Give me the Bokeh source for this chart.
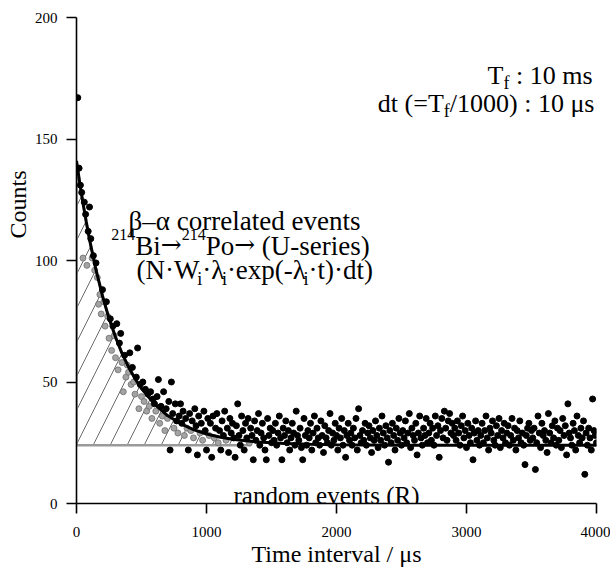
import numpy as np
from bokeh.plotting import figure
from bokeh.models import Range1d, FixedTicker, Label, Title
from bokeh.embed import file_html
from bokeh.resources import INLINE

# ---------------- data ----------------
time_us = list(range(10, 4001, 10))          # dt = 10 us bins
counts = [
    167, 138, 131, 128, 101, 124, 119, 98, 112, 122,
    109, 101, 102, 96, 99, 93, 82, 86, 78, 88,
    83, 73, 83, 77, 68, 76, 63, 73, 69, 60,
    74, 55, 66, 70, 58, 46, 61, 52, 57, 54,
    62, 49, 56, 50, 45, 52, 64, 39, 49, 44,
    50, 42, 47, 38, 45, 40, 46, 35, 43, 41,
    38, 44, 51, 33, 40, 36, 46, 30, 39, 35,
    42, 22, 50, 37, 31, 41, 34, 29, 36, 41,
    33, 38, 28, 35, 31, 22, 37, 30, 34, 27,
    39, 32, 20, 36, 29, 33, 26, 38, 30, 22,
    35, 28, 33, 19, 36, 27, 31, 37, 25, 30,
    22, 34, 28, 38, 26, 31, 21, 35, 29, 33,
    27, 19, 32, 41, 28, 24, 36, 30, 22, 33,
    27, 35, 25, 31, 28, 18, 34, 26, 30, 37,
    24, 29, 33, 27, 22, 18, 35, 28, 31, 25,
    30, 26, 33, 24, 29, 36, 27, 18, 31, 28,
    34, 25, 30, 22, 27, 33, 29, 24, 38, 28,
    26, 31, 23, 18, 35, 28, 24, 30, 27, 33,
    22, 29, 36, 25, 31, 27, 24, 34, 28, 21,
    32, 27, 25, 30, 37, 24, 29, 26, 33, 28,
    22, 31, 27, 35, 24, 30, 19, 28, 33, 26,
    29, 24, 31, 27, 35, 22, 39, 28, 25, 30,
    26, 33, 24, 29, 32, 27, 21, 30, 26, 34,
    28, 23, 31, 26, 36, 29, 24, 32, 27, 17,
    30, 25, 33, 28, 22, 31, 26, 35, 29, 24,
    30, 27, 34, 25, 29, 37, 23, 31, 28, 26,
    33, 20, 29, 36, 27, 24, 31, 28, 35, 25,
    29, 33, 26, 31, 24, 36, 28, 32, 19, 30,
    35, 27, 38, 31, 26, 34, 37, 29, 33, 28,
    31, 26, 34, 29, 24, 32, 36, 27, 30, 23,
    33, 28, 25, 31, 18, 29, 34, 26, 30, 24,
    28, 33, 25, 30, 36, 27, 22, 31, 29, 34,
    26, 24, 32, 28, 35, 23, 30, 27, 33, 25,
    29, 32, 24, 28, 35, 26, 31, 22, 30, 27,
    34, 25, 29, 24, 16, 28, 31, 33, 26, 30,
    27, 31, 14, 25, 36, 29, 23, 33, 28, 30,
    26, 21, 37, 29, 25, 32, 27, 34, 24, 31,
    26, 30, 23, 35, 28, 32, 20, 41, 29, 27,
    24, 33, 30, 22, 36, 28, 25, 31, 27, 34,
    12, 29, 24, 31, 27, 22, 43, 30, 28, 25,
]

fit_time = [0, 25, 50, 75, 100, 150, 200, 250, 300, 350, 400, 450, 500,
            600, 700, 800, 900, 1000, 1100, 1200, 1300, 1400, 1600, 1800,
            2000, 2500, 3000, 4000]
fit_counts = [141.0, 131.9, 123.6, 115.9, 108.7, 96.1, 85.4, 76.2, 68.5,
              61.8, 56.2, 51.4, 47.3, 40.9, 36.2, 32.9, 30.4, 28.6, 27.4,
              26.4, 25.8, 25.3, 24.7, 24.4, 24.2, 24.0, 24.0, 24.0]
random_level = 24.0
shade_end = 1340

x_ticks = [0, 1000, 2000, 3000, 4000]
y_ticks = [0, 50, 100, 150, 200]

# ---------------- layout helpers ----------------
SERIF = "Liberation Serif"
ARROWF = "DejaVu Serif"
FX0, FX1, FY0, FY1 = 76, 596, 503, 17   # canvas px of frame edges
XMIN, XMAX, YMIN, YMAX = 0, 4000, 0, 200


def px2x(px):
    return XMIN + (px - FX0) * (XMAX - XMIN) / (FX1 - FX0)


def py2y(py):
    return YMIN + (FY0 - py) * (YMAX - YMIN) / (FY0 - FY1)


WID = {' ': 250, '(': 333, ')': 333, '-': 333, '/': 278, ':': 278, '=': 564,
       '·': 250, '–': 500, 'β': 500, 'α': 531, 'λ': 479, 'μ': 500,
       'B': 667, 'N': 722, 'P': 556, 'R': 667, 'T': 611, 'U': 722, 'W': 944,
       'a': 444, 'c': 444, 'd': 500, 'e': 444, 'f': 333, 'i': 278, 'l': 278,
       'm': 778, 'n': 500, 'o': 500, 'p': 500, 'r': 333, 's': 389, 't': 278,
       'v': 500, 'x': 500}
ARROW_W = 838


def tw(s, size, font=SERIF):
    if font == ARROWF:
        return len(s) * ARROW_W * size / 1000.0
    return sum(WID.get(ch, 500) for ch in s) * size / 1000.0


p = figure(frame_width=520, frame_height=486,
           min_border_left=76, min_border_right=14,
           min_border_top=17, min_border_bottom=70,
           x_range=Range1d(XMIN, XMAX), y_range=Range1d(YMIN, YMAX),
           output_backend="svg", toolbar_location=None)
p.outline_line_color = None
p.xgrid.visible = False
p.ygrid.visible = False
p.background_fill_color = "white"
p.border_fill_color = "white"

p.xaxis.ticker = FixedTicker(ticks=x_ticks)
p.yaxis.ticker = FixedTicker(ticks=y_ticks)
for ax in (p.xaxis[0], p.yaxis[0]):
    ax.axis_line_width = 1.6
    ax.axis_line_color = "black"
    ax.major_tick_line_width = 1.6
    ax.major_tick_line_color = "black"
    ax.major_tick_out = 10
    ax.major_tick_in = 0
    ax.minor_tick_out = 0
    ax.minor_tick_in = 0
    ax.major_label_text_font = SERIF
    ax.major_label_text_font_size = "15px"
    ax.major_label_text_color = "black"
p.xaxis.major_label_standoff = 13
p.yaxis.major_label_standoff = 9

p.xaxis.axis_label = "Time interval / μs"
p.xaxis.axis_label_text_font = SERIF
p.xaxis.axis_label_text_font_size = "24px"
p.xaxis.axis_label_text_font_style = "normal"
p.xaxis.axis_label_text_color = "black"
p.xaxis.axis_label_standoff = 1

p.add_layout(Title(text="Counts", align="right", offset=153, standoff=2,
                   text_font=SERIF, text_font_size="24px",
                   text_font_style="normal", text_color="black"), "left")

# ---------------- marks ----------------
fx = np.array(fit_time, float)
fy = np.array(fit_counts, float)
m = fx < shade_end
hx = list(fx[m]) + [shade_end, shade_end, 0]
hy = list(fy[m]) + [float(np.interp(shade_end, fx, fy)), random_level, random_level]
p.patch(hx, hy, fill_color=None, hatch_pattern="/", hatch_scale=34,
        hatch_weight=0.8, hatch_color="#444444",
        line_color="#9a9a9a", line_width=2.5)

cx = np.array(time_us, float)
cy = np.array(counts, float)
on_curve = np.interp(cx, fx, fy)
inside = (cx <= shade_end) & (cy > random_level) & (cy < on_curve)

p.scatter(cx[inside], cy[inside], size=6, fill_color="#a3a3a3",
          line_color="#6e6e6e", line_width=0.8)
p.line(fx, fy, line_width=3, color="black")
p.scatter(cx[~inside], cy[~inside], size=6, fill_color="black",
          line_color="black")


# ---------------- texts ----------------
def label(text, xpx, ypx, size, align="left", font=SERIF):
    p.add_layout(Label(x=px2x(xpx), y=py2y(ypx), text=text,
                       text_font=font, text_font_size=f"{size}px",
                       text_align=align, text_baseline="alphabetic",
                       text_color="black"))


def rich(pieces, xpx, base, align="left"):
    pcs = [pc if len(pc) == 4 else pc + (SERIF,) for pc in pieces]
    total = sum(tw(t, s, f) for t, s, d, f in pcs)
    x = xpx
    if align == "center":
        x = xpx - total / 2
    elif align == "right":
        x = xpx - total
    for t, s, d, f in pcs:
        if t.strip():
            label(t, x, base - d, s, font=f)
        x += tw(t, s, f)


label("β–α correlated events", 244, 220, 27, align="center")
rich([("214", 16, 11), ("Bi", 27, 0), ("→", 25, 1, ARROWF), ("214", 16, 11),
      ("Po", 27, 0), ("→", 25, 1, ARROWF), (" ", 27, 0), ("(U-series)", 27, 0)],
     240, 245, align="center")
rich([("(N·W", 27, 0), ("i", 18, -9), ("·λ", 27, 0), ("i", 18, -9),
      ("·exp(-λ", 27, 0), ("i", 18, -9), ("·t)·dt)", 27, 0)],
     252, 269, align="center")

rich([("T", 26, 0), ("f", 18, -7), (" ", 26, 0), (": 10 ms", 26, 0)],
     592, 75, align="right")
rich([("dt (=T", 26, 0), ("f", 18, -7), ("/1000)", 26, 0), (" ", 26, 0),
      (": 10 μs", 26, 0)], 593, 103, align="right")

label("random events (R)", 326, 495, 25, align="center")

open("out.html", "w").write(file_html(p, INLINE))
